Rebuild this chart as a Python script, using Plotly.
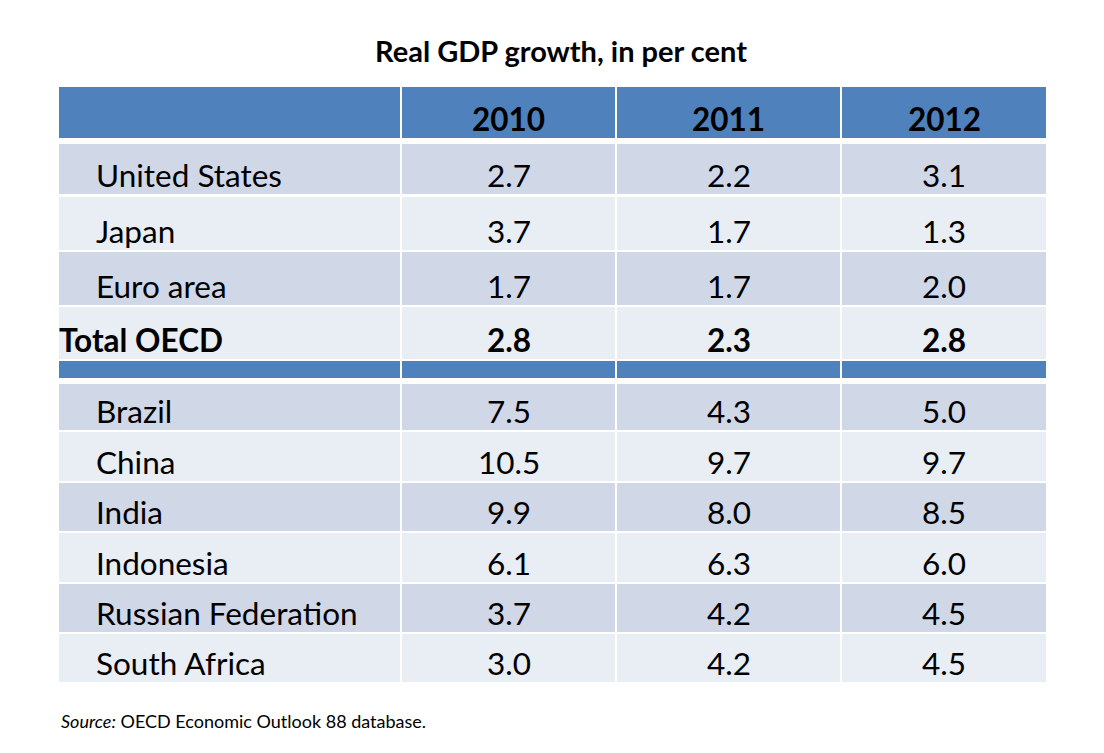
import plotly.graph_objects as go

# ---------------- data ----------------
title = "Real GDP growth, in per cent"
years = ["2010", "2011", "2012"]
oecd_rows = ["United States", "Japan", "Euro area"]
oecd_2010 = [2.7, 3.7, 1.7]
oecd_2011 = [2.2, 1.7, 1.7]
oecd_2012 = [3.1, 1.3, 2.0]
total_label = "Total OECD"
total_vals = [2.8, 2.3, 2.8]
other_rows = ["Brazil", "China", "India", "Indonesia", "Russian Federation", "South Africa"]
other_2010 = [7.5, 10.5, 9.9, 6.1, 3.7, 3.0]
other_2011 = [4.3, 9.7, 8.0, 6.3, 4.2, 4.2]
other_2012 = [5.0, 9.7, 8.5, 6.0, 4.5, 4.5]
source_note = "<i>Source:</i> OECD Economic Outlook 88 database."

# ---------------- style / layout ----------------
W, H = 1104, 753
PAGE_OFF = 8   # default body margin of the html page
BLUE = "#4F81BD"
DARK = "#D0D8E8"
LIGHT = "#E9EDF4"
FONT = "Lato"
BODY = 31.5
col_edges = [(59, 400), (402, 615), (617, 840), (842, 1046)]
header_span = (87, 138)
top_spans = [(144, 194), (197, 250), (252, 305), (307, 359)]
sep_span = (361, 378)
low_spans = [(384, 430), (432, 481), (483, 531), (533, 582), (584, 632), (634, 682)]
TEXT_OFF = 19   # distance from row bottom to text middle
LABEL_X = 94
BOLD_LABEL_X = 57
SOURCE_X = 59

shapes, annots = [], []

def rect(x0, x1, y0, y1, color):
    shapes.append(dict(type="rect", xref="x", yref="y", x0=x0, x1=x1, y0=y0, y1=y1,
                       fillcolor=color, line=dict(width=0), layer="below"))

def text(x, y, s, bold=False, anchor="center", size=BODY):
    annots.append(dict(x=x, y=y, xref="x", yref="y", text=f"<b>{s}</b>" if bold else s,
                       showarrow=False, xanchor=anchor, yanchor="middle",
                       font=dict(family=FONT, size=size, color="black")))

def colc(i):
    return (col_edges[i][0] + col_edges[i][1]) / 2

# header
for c in col_edges:
    rect(c[0], c[1], header_span[0], header_span[1], BLUE)
for i, y in enumerate(years):
    text(colc(i + 1), header_span[1] - TEXT_OFF, y, bold=True)

# rows
labels = oecd_rows + [total_label]
v10 = oecd_2010 + [total_vals[0]]
v11 = oecd_2011 + [total_vals[1]]
v12 = oecd_2012 + [total_vals[2]]
for r, (span, lab) in enumerate(zip(top_spans, labels)):
    color = DARK if r % 2 == 0 else LIGHT
    for c in col_edges:
        rect(c[0], c[1], span[0], span[1], color)
    bold = lab == total_label
    ty = span[1] - TEXT_OFF
    text(BOLD_LABEL_X if bold else LABEL_X, ty, lab, bold=bold, anchor="left")
    for i, v in enumerate([v10[r], v11[r], v12[r]]):
        text(colc(i + 1), ty, f"{v:.1f}", bold=bold)

for c in col_edges:
    rect(c[0], c[1], sep_span[0], sep_span[1], BLUE)

for r, (span, lab) in enumerate(zip(low_spans, other_rows)):
    color = DARK if r % 2 == 0 else LIGHT
    for c in col_edges:
        rect(c[0], c[1], span[0], span[1], color)
    ty = span[1] - TEXT_OFF
    text(LABEL_X, ty, lab, anchor="left")
    for i, v in enumerate([other_2010[r], other_2011[r], other_2012[r]]):
        text(colc(i + 1), ty, f"{v:.1f}")

# title + source
text(561, 50, title, bold=True, size=29)
text(SOURCE_X, 721, source_note, anchor="left", size=18)

fig = go.Figure()
fig.add_trace(go.Scatter(x=[0, W], y=[0, H], mode="markers", marker=dict(opacity=0),
                         hoverinfo="skip", showlegend=False))
fig.update_layout(width=W, height=H, margin=dict(l=0, r=0, t=0, b=0),
                  paper_bgcolor="white", plot_bgcolor="white",
                  shapes=shapes, annotations=annots,
                  xaxis=dict(range=[PAGE_OFF, W + PAGE_OFF], visible=False, fixedrange=True),
                  yaxis=dict(range=[H + PAGE_OFF, PAGE_OFF], visible=False, fixedrange=True))
fig.write_html("out.html")
